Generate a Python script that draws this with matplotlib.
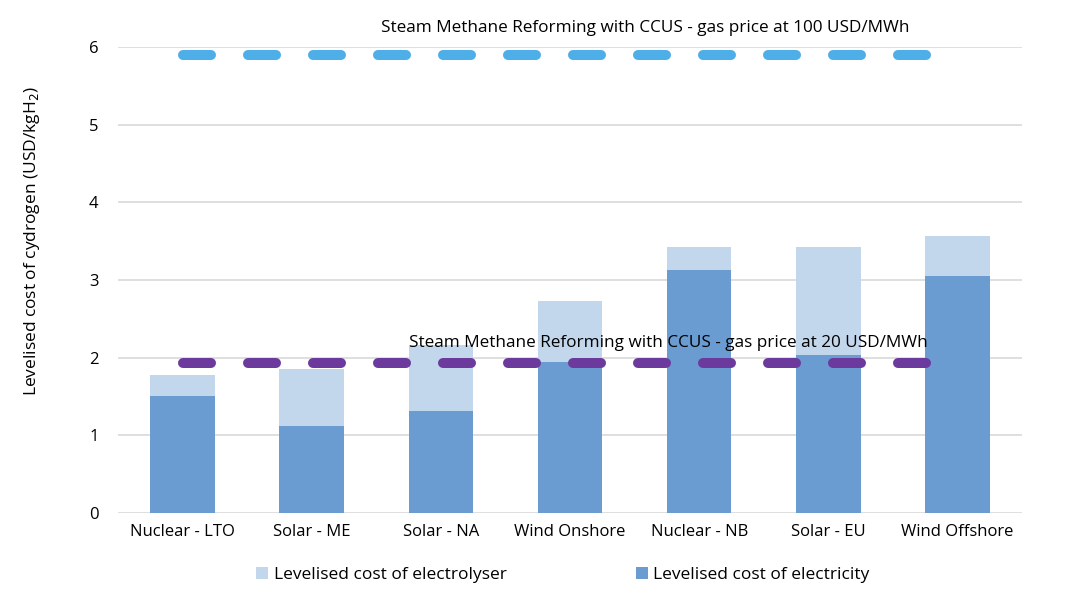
import matplotlib.pyplot as plt
import numpy as np

plt.rcParams['font.family'] = ['Open Sans', 'DejaVu Sans']

'''
 Chart data
'''
categories = ['Nuclear - LTO', 'Solar - ME', 'Solar - NA', 'Wind Onshore',
              'Nuclear - NB', 'Solar - EU', 'Wind Offshore']
electricity = [1.51, 1.12, 1.31, 1.94, 3.13, 2.03, 3.05]
total = [1.78, 1.85, 2.16, 2.73, 3.42, 3.42, 3.57]
electrolyser = [t - e for t, e in zip(total, electricity)]

smr_high = 5.90
smr_low = 1.93
smr_high_label = 'Steam Methane Reforming with CCUS - gas price at 100 USD/MWh'
smr_low_label = 'Steam Methane Reforming with CCUS - gas price at 20 USD/MWh'

COLOR_ELEC = '#6A9BD1'
COLOR_LYSER = '#C2D6EC'
COLOR_HIGH = '#4DAEE8'
COLOR_LOW = '#6B3A9C'

fig = plt.figure(figsize=(10.68, 6.01), dpi=100)
ax = fig.add_axes([0.1105, 0.1464, 0.8465, 0.7754])

x = np.arange(len(categories))
ax.bar(x, electricity, width=0.5, color=COLOR_ELEC, zorder=2,
       label='Levelised cost of electricity')
ax.bar(x, electrolyser, width=0.5, bottom=electricity, color=COLOR_LYSER, zorder=2,
       label='Levelised cost of electrolyser')

# dashed reference lines
for val, col in [(smr_high, COLOR_HIGH), (smr_low, COLOR_LOW)]:
    ax.plot([0, 5.76], [val, val], color=col, linewidth=7.2,
            linestyle=(0, (2.8, 3.7)), dash_capstyle='round',
            solid_capstyle='round', zorder=3, clip_on=False)

ax.text(3.58, 6.24, smr_high_label, ha='center', va='center', fontsize=12.3,
        clip_on=False, zorder=4)
ax.text(3.76, 2.19, smr_low_label, ha='center', va='center', fontsize=12.3, zorder=4)

ax.set_xlim(-0.5, 6.5)
ax.set_ylim(0, 6)
ax.set_yticks(range(7))
ax.set_xticks(x)
ax.set_xticklabels(categories, fontsize=12)
ax.tick_params(axis='y', labelsize=12, length=0, pad=14)
ax.tick_params(axis='x', length=0, pad=8)
ax.yaxis.grid(True, color='#D9D9D9', linewidth=1.2, zorder=0)
ax.set_axisbelow(True)
for s in ax.spines.values():
    s.set_visible(False)

ax.set_ylabel('Levelised cost of cydrogen (USD/kgH$_2$)', fontsize=12.5)
ax.yaxis.set_label_coords(-0.084, 0.584)

handles, labels = ax.get_legend_handles_labels()
fig.legend(handles[::-1], labels[::-1], loc='center', bbox_to_anchor=(0.527, 0.043),
           ncol=2, frameon=False, fontsize=12.5, handlelength=0.7, handleheight=0.7,
           handletextpad=0.3, columnspacing=7.45)

plt.savefig('out.png', dpi=100)
